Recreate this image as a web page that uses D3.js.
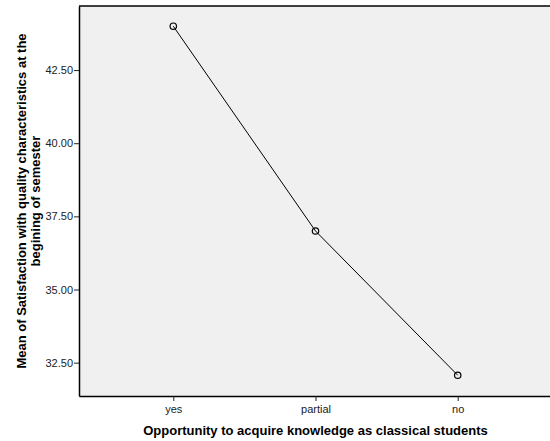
<!DOCTYPE html>
<html>
<head>
<meta charset="utf-8">
<script src="https://cdn.jsdelivr.net/npm/d3@7"></script>
<style>
  body { margin: 0; background: #fff; }
  text { font-family: "Liberation Sans", Arial, sans-serif; }
</style>
</head>
<body>
<svg id="chart"></svg>
<script>
const categories = ['yes', 'partial', 'no'];
const means = [44.0, 37.0, 32.07];
const yTicks = [32.5, 35.0, 37.5, 40.0, 42.5];

const width = 550, height = 441;
const margin = { left: 79, top: 6, right: -2, bottom: 45 };
const w = width - margin.left - margin.right;
const h = height - margin.top - margin.bottom;

const svg = d3.select('#chart')
  .attr('width', width)
  .attr('height', height);

const g = svg.append('g')
  .attr('transform', `translate(${margin.left},${margin.top})`);

const x = d3.scalePoint()
  .domain(categories)
  .range([0, w])
  .padding(0.663);

const y = d3.scaleLinear()
  .domain([31.36, 44.69])
  .range([h, 0]);

// plot background
g.append('rect')
  .attr('width', w)
  .attr('height', h)
  .attr('fill', '#f0f0f0');

// axes
const yAxis = g.append('g')
  .call(d3.axisLeft(y).tickValues(yTicks).tickFormat(d3.format('.2f')).tickSize(5).tickSizeOuter(0));
const xAxis = g.append('g')
  .attr('transform', `translate(0,${h})`)
  .call(d3.axisBottom(x).tickSize(5).tickSizeOuter(0));

[xAxis, yAxis].forEach(ax => {
  ax.select('.domain').attr('stroke', '#000').attr('stroke-width', 1.5);
  ax.selectAll('.tick line').attr('stroke', '#222');
  ax.selectAll('.tick text')
    .attr('fill', '#222')
    .style('font-size', '11px')
    .style('font-family', '"Liberation Sans", Arial, sans-serif');
});
yAxis.selectAll('.tick text').attr('x', -6);
xAxis.selectAll('.tick text').attr('y', 9);

// top border
g.append('line')
  .attr('x1', 0).attr('x2', w)
  .attr('y1', 0).attr('y2', 0)
  .attr('stroke', '#000').attr('stroke-width', 1.5);

// line
const pts = categories.map((c, i) => ({ cat: c, value: means[i] }));
g.append('path')
  .datum(pts)
  .attr('fill', 'none')
  .attr('stroke', '#000')
  .attr('stroke-width', 1)
  .attr('d', d3.line().x(d => x(d.cat)).y(d => y(d.value)));

g.selectAll('circle.pt')
  .data(pts)
  .join('circle')
  .attr('class', 'pt')
  .attr('cx', d => x(d.cat))
  .attr('cy', d => y(d.value))
  .attr('r', 3.2)
  .attr('fill', 'none')
  .attr('stroke', '#000')
  .attr('stroke-width', 1.2);

// axis titles
svg.append('text')
  .attr('x', 315.5)
  .attr('y', 435)
  .attr('text-anchor', 'middle')
  .style('font-size', '13px')
  .style('font-weight', 'bold')
  .text('Opportunity to acquire knowledge as classical students');

const yt = svg.append('text')
  .attr('transform', 'translate(0,201) rotate(-90)')
  .attr('text-anchor', 'middle')
  .style('font-size', '13px')
  .style('font-weight', 'bold');
yt.append('tspan').attr('x', 0).attr('y', 26).text('Mean of Satisfaction with quality characteristics at the');
yt.append('tspan').attr('x', 0).attr('y', 40).text('begining of semester');
</script>
</body>
</html>
